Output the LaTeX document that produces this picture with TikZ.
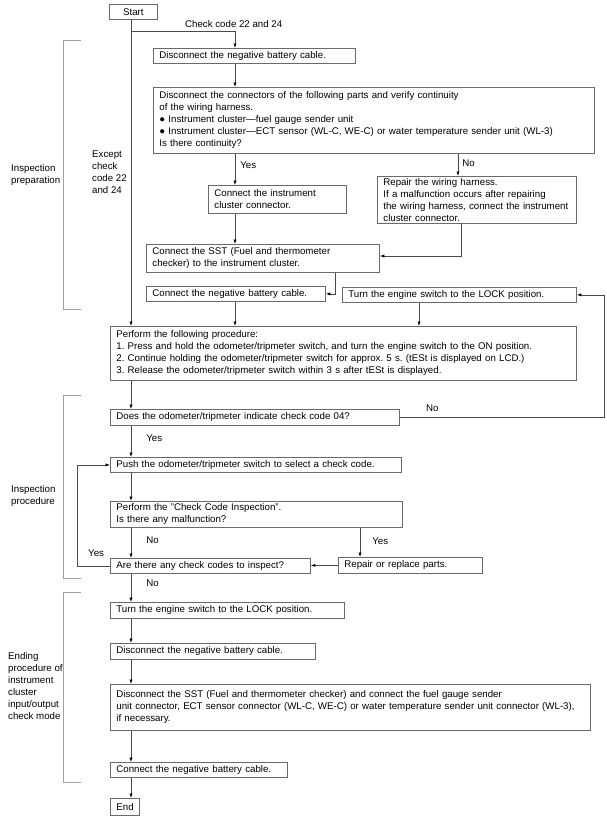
\documentclass[tikz,border=0pt]{standalone}
\usepackage{fontspec}
\setmainfont{Liberation Sans}
\usetikzlibrary{arrows.meta}
\newcommand\dgfs{\fontsize{9.7}{12}\selectfont\frenchspacing}
\newcommand\oneline[1]{\mbox{#1}}
\definecolor{boxgray}{HTML}{6A6A6A}
\definecolor{linegray}{HTML}{4A4A4A}
\definecolor{brgray}{HTML}{A0A0A0}
\begin{document}
\begin{tikzpicture}[x=1pt,y=-1pt,
  box/.style={draw=boxgray, line width=0.8pt, inner xsep=6pt, inner ysep=0pt, anchor=north west, align=left, font=\dgfs},
  cbox/.style={box, align=center},
  conn/.style={draw=linegray, line width=0.7pt},
  arr/.style={conn, -{Latex[length=4.5pt,width=3.2pt,color=black]}},
  lbl/.style={anchor=west, inner sep=0pt, align=left, font=\dgfs},
  bracket/.style={draw=brgray, line width=0.9pt}]
\useasboundingbox (0,0) rectangle (607,819);

% boxes
\node[cbox, text width=36pt, minimum height=15pt] (start) at (109,4) {Start};
\node[box, text width=190pt, minimum height=15pt] (dis1) at (153,48) {Disconnect the negative battery cable.};
\node[box, text width=429pt, minimum height=66pt] (cont) at (153,87) {\oneline{Disconnect the connectors of the following parts and verify continuity}\\of the wiring harness.\\● Instrument cluster—fuel gauge sender unit\\\oneline{● Instrument cluster—ECT sensor (WL-C, WE-C) or water temperature sender unit (WL-3)}\\Is there continuity?};
\node[box, text width=126pt, minimum height=28pt] (inst) at (208,185) {Connect the instrument\\cluster connector.};
\node[box, text width=187pt, minimum height=47pt] (rep1) at (377,176) {Repair the wiring harness.\\\oneline{If a malfunction occurs after repairing}\\\oneline{the wiring harness, connect the instrument}\\cluster connector.};
\node[box, text width=221pt, minimum height=28pt] (sst1) at (146,244) {\oneline{Connect the SST (Fuel and thermometer}\\checker) to the instrument cluster.};
\node[box, text width=167pt, minimum height=15pt] (neg1) at (146,286) {Connect the negative battery cable.};
\node[box, text width=222pt, minimum height=15pt] (lock1) at (342,287) {\oneline{Turn the engine switch to the LOCK position.}};
\node[box, text width=454pt, minimum height=54pt] (proc) at (110,326) {Perform the following procedure:\\\oneline{1. Press and hold the odometer/tripmeter switch, and turn the engine switch to the ON position.}\\\oneline{2. Continue holding the odometer/tripmeter switch for approx. 5 s. (tESt is displayed on LCD.)}\\\oneline{3. Release the odometer/tripmeter switch within 3 s after tESt is displayed.}};
\node[box, text width=277pt, minimum height=16pt] (does) at (110,409) {\oneline{Does the odometer/tripmeter indicate check code 04?}};
\node[box, text width=279pt, minimum height=15pt] (push) at (110,457) {\oneline{Push the odometer/tripmeter switch to select a check code.}};
\node[box, text width=280pt, minimum height=26pt] (perf) at (110,501) {Perform the "Check Code Inspection".\\Is there any malfunction?};
\node[box, text width=188pt, minimum height=15pt] (are) at (110,558) {\oneline{Are there any check codes to inspect?}};
\node[box, text width=132pt, minimum height=16pt] (rep2) at (338,557) {\oneline{Repair or replace parts.}};
\node[box, text width=222pt, minimum height=16pt] (lock2) at (110,602) {\oneline{Turn the engine switch to the LOCK position.}};
\node[box, text width=193pt, minimum height=16pt] (dis2) at (110,643) {\oneline{Disconnect the negative battery cable.}};
\node[box, text width=468pt, minimum height=46pt] (sst2) at (110,684) {\oneline{Disconnect the SST (Fuel and thermometer checker) and connect the fuel gauge sender}\\\oneline{unit connector, ECT sensor connector (WL-C, WE-C) or water temperature sender unit connector (WL-3),}\\if necessary.};
\node[box, text width=165pt, minimum height=15pt] (neg2) at (110,762) {\oneline{Connect the negative battery cable.}};
\node[cbox, text width=17pt, minimum height=17pt] (end) at (110,798) {End};

% junction coordinates
\coordinate (mainx) at (131,0);
\coordinate (brk) at (131,31);
\coordinate (brk2) at (235,31);
\coordinate (c04) at (604,0);
\coordinate (loopx) at (77,0);

% connectors
\draw[arr] (start.south -| mainx) -- (proc.north -| mainx);
\draw[arr] (brk) -- (brk2) -- (dis1.north -| brk2);
\draw[arr] (dis1.south -| brk2) -- (cont.north -| brk2);
\draw[arr] (cont.south -| brk2) -- (inst.north -| brk2) node[pos=0.38, lbl, xshift=5pt] {Yes};
\draw[arr] (cont.south -| 458,0) -- (rep1.north -| 458,0) node[pos=0.42, lbl, xshift=4pt] {No};
\draw[arr] (inst.south -| brk2) -- (sst1.north -| brk2);
\draw[arr] (rep1.south -| 461,0) |- (sst1.east |- 0,256);
\draw[arr] (sst1.south -| 335,0) |- (neg1.east);
\draw[arr] (neg1.south -| brk2) -- (proc.north -| brk2);
\draw[arr] (lock1.south -| 419,0) -- (proc.north -| 419,0);
\draw[arr] (proc.south -| mainx) -- (does.north -| mainx);
\draw[arr] (does.east) -- (does.east -| c04) |- (lock1.east);
\node[lbl] (no04) at (426,408) {No};
\draw[arr] (does.south -| mainx) -- (push.north -| mainx) node[pos=0.4, lbl, xshift=15pt] {Yes};
\draw[arr] (push.south -| mainx) -- (perf.north -| mainx);
\draw[arr] (perf.south -| mainx) -- (are.north -| mainx) node[pos=0.42, lbl, xshift=15pt] {No};
\draw[arr] (perf.south -| 360,0) -- (rep2.north -| 360,0) node[pos=0.45, lbl, xshift=12pt] {Yes};
\draw[arr] (rep2.west) -- (are.east |- rep2.west);
\draw[arr] (are.west) -- (are.west -| loopx) |- (push.west);
\node[lbl] (yesloop) at (88,553) {Yes};
\draw[arr] (are.south -| mainx) -- (lock2.north -| mainx) node[pos=0.35, lbl, xshift=15pt] {No};
\draw[arr] (lock2.south -| mainx) -- (dis2.north -| mainx);
\draw[arr] (dis2.south -| mainx) -- (sst2.north -| mainx);
\draw[arr] (sst2.south -| mainx) -- (neg2.north -| mainx);
\draw[arr] (neg2.south -| mainx) -- (end.north -| mainx);

% labels
\node[lbl] (cc) at (185,24) {Check code 22 and 24};
\node[lbl] (exc) at (92,172) {Except\\check\\code 22\\and 24};
\node[lbl] (ip) at (11,175) {Inspection\\preparation};
\node[lbl] (ipr) at (11,496) {Inspection\\procedure};
\node[lbl] (endp) at (8,686) {Ending\\procedure of\\instrument\\cluster\\input/output\\check mode};

% brackets
\draw[bracket] (81,40) -- (63,40) -- (63,309) -- (81,309);
\draw[bracket] (81,395) -- (63,395) -- (63,578) -- (81,578);
\draw[bracket] (81,592) -- (63,592) -- (63,782) -- (81,782);
\end{tikzpicture}
\end{document}
